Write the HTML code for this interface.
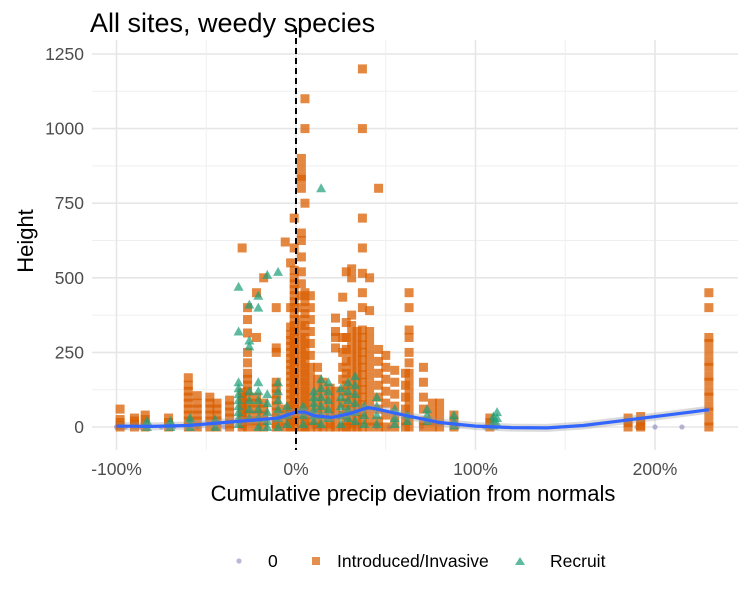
<!DOCTYPE html>
<html><head><meta charset="utf-8"><style>
body{margin:0;background:#fff;font-family:"Liberation Sans",Arial,sans-serif}
svg text{font-family:"Liberation Sans",Arial,sans-serif}
</style></head><body>
<svg id="chart" width="750" height="600" xmlns="http://www.w3.org/2000/svg">
<rect width="750" height="600" fill="#fff"/>
<text x="90" y="32" font-size="27" fill="#000">All sites, weedy species</text>
<g id="grid"></g>
<g id="marks"></g>
<g id="axes"></g>
<text x="413" y="501" font-size="22" text-anchor="middle" fill="#000">Cumulative precip deviation from normals</text>
<text transform="translate(33,241) rotate(-90)" font-size="22" text-anchor="middle" fill="#000">Height</text>
<g>
<g><circle cx="239" cy="561" r="2.6" fill="#7570B3" opacity="0.5"/><text x="268" y="567" font-size="17.5">0</text></g>
<g><rect x="312" y="557" width="8" height="8" fill="#D95F02" opacity="0.7"/><text x="337" y="567" font-size="17.5">Introduced/Invasive</text></g>
<g><polygon points="520,557 525,565 515,565" fill="#1B9E77" opacity="0.7"/><text x="550" y="567" font-size="17.5">Recruit</text></g>
</g>
</svg>
<script>
const xTicks=[-100,0,100,200];
const xTickLabels=["-100%","0%","100%","200%"];
const yTicks=[0,250,500,750,1000,1250];
const yTickLabels=["0","250","500","750","1000","1250"];
const introX=[-98,-90,-84,-71,-60,-55,-48,-44,-37,-30,-27,-22,-18,-11,-6,-3,-1,3,5,8,12,15,19,22,26,28,31,34,37,41,46,50,55,61,63,71,76,80,88,108,185,192,230];
const introH=[[60,25,15,5,0],[30,20,10,0],[40,25,10,0],[30,15,0],[165,140,120,100,80,60,40,20,0],[105,80,60,40,20,0],[100,80,60,40,20,0],[80,60,40,20,0],[90,70,50,30,10,0],[600,115,100,85,70,55,40,25,10,0],[400,360,315,250,215,180,160,140,120,100,80,60,40,20,0],[450,300,100,80,60,40,20,0],[500,80,60,40,20,0],[400,265,250,150,130,110,90,70,50,30,10,0],[620,60,40,20,0],[550,400,335,310,290,270,250,230,210,190,170,150,130,110,90,70,50,30,10,0],[700,600,525,500,480,460,440,420,400,380,360,340,320,300,280,260,240,220,200,180,160,140,120,100,80,60,40,20,0],[840,800,900,870,830,650,625,570,520,480,440,400,360,330,300,270,240,210,180,150,120,90,60,30,0],[1100,1000,750,450,420,380,340,300,270,240,210,180,150,120,90,60,30,0],[440,400,360,320,280,240,200,170,140,110,80,50,20,0],[200,160,130,100,70,40,10,0],[150,120,90,60,30,0],[130,100,70,40,10,0],[365,320,300,265,120,90,60,30,0],[435,300,250,200,160,120,80,40,0],[520,350,300,260,220,180,140,100,60,20,0],[530,500,375,340,310,280,250,220,190,160,130,100,70,40,10,0],[320,290,260,230,200,170,140,110,80,50,20,0],[1200,1000,700,600,515,450,400,325,300,275,250,225,200,175,150,125,100,75,50,25,0],[500,390,320,290,260,230,200,170,140,110,80,50,20,0],[800,260,220,180,140,100,60,20,0],[240,200,160,120,80,40,0],[190,150,110,70,30,0],[180,140,100,60,20,0],[450,400,325,300,250,215,180,150,120,90,60,30,0],[200,150,100,60,20,0],[80,50,20,0],[80,50,20,0],[40,20,0],[30,15,0],[30,15,0],[35,20,5,0],[450,400,300,280,250,220,200,170,150,120,100,70,50,20,0]];
const recX=[-83,-70,-59,-45,-32,-26,-21,-16,-10,-5,4,10,14,18,25,29,33,38,45,55,62,73,88,110,112];
const recH=[[20,10,0],[20,10,0],[30,15,0],[25,0],[470,320,150,130,110,90,70,50,30,10],[410,290,270,120,90,60,30],[440,400,150,120,90,60,30,0],[510,110,80,50,20,0],[520,150,120,90,60,30,0],[70,40,10],[70,40,10],[120,100,80,60,40,20],[800,160,130,100,70,40,10],[150,120,90,60,30],[130,100,70,40,10],[150,120,90,60,30],[170,140,110,80,50,20],[70,40,10],[100,70,40,10],[60,30,10],[40,20],[60,40,20],[40,20,5],[35,20,5],[50,30,10]];
const zeroX=[-100,-95,-87,-75,-68,-55,-40,-30,-20,-8,5,10,15,25,35,45,52,70,90,105,190,200,215];
const zeroH=[0,0,0,0,0,0,0,0,0,0,0,0,0,0,0,0,0,0,0,0,0,0,0];
const smoothX=[-100,-80,-60,-40,-20,-10,-5,0,5,10,20,30,40,45,60,80,100,120,140,160,180,200,220,230];
const smoothY=[3,2,5,15,25,30,40,50,50,38,32,45,65,60,40,15,3,-2,-3,5,20,35,50,58];

const X=v=>296+v*1.795, Y=v=>427-v*0.2984;
const NS="http://www.w3.org/2000/svg";
function mk(p,t,a){const e=document.createElementNS(NS,t);for(const k in a)e.setAttribute(k,a[k]);p.appendChild(e);return e;}
const grid=document.getElementById('grid'),marks=document.getElementById('marks'),axes=document.getElementById('axes');
const L=92,R=738,T=40,B=450;
for(let i=0;i<yTicks.length;i++){
  const y=Y(yTicks[i]);
  const g=mk(grid,'line',{x1:L,x2:R,y1:y,y2:y,stroke:'#e6e6e6','stroke-width':1.6});
  
  
  if(i<yTicks.length-1){const ym=Y((yTicks[i]+yTicks[i+1])/2);const m=mk(grid,'line',{x1:L,x2:R,y1:ym,y2:ym,stroke:'#efefef','stroke-width':1});
  
  }
  const t=mk(axes,'text',{x:84,y:y+6,'text-anchor':'end','font-size':17.5,fill:'#4d4d4d'});t.textContent=yTickLabels[i];
  
  
}
for(let i=0;i<xTicks.length;i++){
  const x=X(xTicks[i]);
  const g=mk(grid,'line',{x1:x,x2:x,y1:T,y2:B,stroke:'#e6e6e6','stroke-width':1.6});
  
  
  const xm=X(xTicks[i]+50);if(xm<R){const m=mk(grid,'line',{x1:xm,x2:xm,y1:T,y2:B,stroke:'#efefef','stroke-width':1});
  
  }
  const t=mk(axes,'text',{x:x,y:475,'text-anchor':'middle','font-size':17.5,fill:'#4d4d4d'});t.textContent=xTickLabels[i];
  
  
}
zeroX.forEach((xv,i)=>{const c=mk(marks,'circle',{cx:X(xv),cy:Y(zeroH[i]),r:2.6,fill:'#7570B3',opacity:0.5});
  
  });
introX.forEach((xv,i)=>introH[i].forEach(h=>{const r=mk(marks,'rect',{x:X(xv)-4.5,y:Y(h)-4.5,width:9,height:9,fill:'#D95F02',opacity:0.75});
  
  }));
recX.forEach((xv,i)=>recH[i].forEach(h=>{const cx=X(xv),cy=Y(h);const p=mk(marks,'polygon',{points:`${cx},${cy-5} ${cx+5},${cy+4} ${cx-5},${cy+4}`,fill:'#1B9E77',opacity:0.7});
  
  }));
let d='';smoothX.forEach((xv,i)=>{d+=(i?'L':'M')+X(xv)+','+Y(smoothY[i]);});
const band=mk(marks,'path',{d:d,fill:'none',stroke:'#999',opacity:0.35,'stroke-width':8});


const sl=mk(marks,'path',{d:d,fill:'none',stroke:'#3366FF','stroke-width':3.2,'stroke-linejoin':'round'});


const vl=mk(marks,'line',{x1:X(0),x2:X(0),y1:T-12,y2:B,stroke:'#000','stroke-width':2,'stroke-dasharray':'6,4'});


</script>
</body></html>
